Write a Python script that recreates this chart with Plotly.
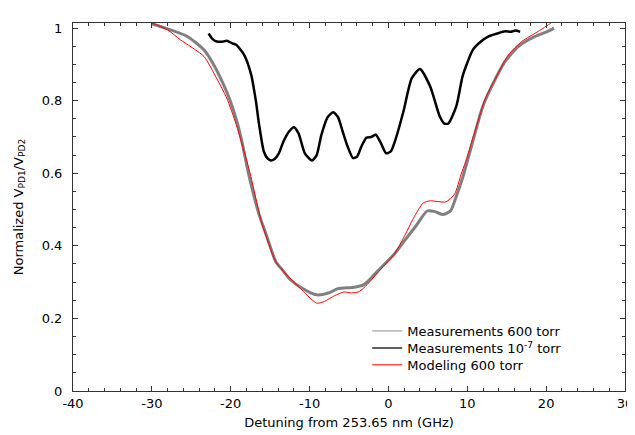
import plotly.graph_objects as go

# Measurements at 600 torr (gray)
meas600_x = [-30.0, -28.0, -25.5, -23.4, -22.0, -21.2, -20.1, -19.1, -18.5, -17.8, -17.2, -16.4, -15.5,
             -14.3, -13.5, -12.5, -11.0, -9.1, -7.6, -6.4, -4.3, -3.1, -2.2, -1.4, 0.7, 1.9, 3.6, 4.9,
             5.8, 6.9, 7.9, 8.5, 9.4, 10.7, 11.9, 13.2, 14.8, 16.5, 18.6, 20.2, 21.0]
meas600_y = [1.012, 0.998, 0.977, 0.940, 0.893, 0.858, 0.802, 0.734, 0.679, 0.605, 0.550, 0.486, 0.431,
             0.357, 0.335, 0.308, 0.284, 0.265, 0.270, 0.282, 0.286, 0.293, 0.311, 0.330, 0.376, 0.410, 0.458, 0.496,
             0.495, 0.486, 0.497, 0.530, 0.587, 0.688, 0.780, 0.844, 0.908, 0.950, 0.977, 0.991, 1.000]

# Measurements at 1e-7 torr (black)
meas7_x = [-22.8, -22.4, -22.0, -21.2, -20.5, -19.8, -19.3, -18.3, -17.4, -16.8, -16.4, -15.8, -15.3,
           -14.9, -14.4, -13.9, -13.3, -12.6, -12.0, -11.4, -10.6, -9.7, -9.1, -8.5, -7.7, -7.0, -6.4,
           -5.8, -5.2, -4.5, -4.0, -3.4, -2.8, -2.2, -1.6, -1.0, -0.3, 0.3, 1.0, 1.9, 2.96, 4.0, 5.3,
           6.5, 7.1, 7.6, 8.6, 9.4, 10.1, 10.7, 11.5, 12.7, 13.8, 14.8, 15.5, 16.1, 16.7]
meas7_y = [0.985, 0.972, 0.965, 0.962, 0.965, 0.958, 0.954, 0.926, 0.871, 0.798, 0.734, 0.660, 0.640,
           0.635, 0.640, 0.655, 0.688, 0.715, 0.727, 0.710, 0.655, 0.635, 0.650, 0.706, 0.755, 0.768, 0.755,
           0.715, 0.675, 0.642, 0.645, 0.675, 0.698, 0.700, 0.706, 0.685, 0.655, 0.660, 0.700, 0.770, 0.862, 0.887, 0.839,
           0.757, 0.737, 0.737, 0.784, 0.867, 0.910, 0.940, 0.959, 0.977, 0.985, 0.991, 0.990, 0.993, 0.990]

# Modeling at 600 torr (red)
model_x = [-30.0, -28.0, -26.4, -23.4, -21.8, -20.5, -19.3, -17.6, -16.0, -14.3, -13.0, -12.2, -10.6,
           -9.1, -8.1, -6.8, -5.6, -4.7, -3.7, -2.7, -1.4, 0.7, 1.9, 3.2, 4.4, 5.3, 6.3, 7.3, 8.4, 9.2,
           9.8, 11.1, 12.3, 13.6, 15.2, 16.9, 19.0, 20.6, 21.5]
model_y = [1.014, 0.995, 0.968, 0.922, 0.862, 0.807, 0.734, 0.605, 0.458, 0.357, 0.322, 0.305, 0.270,
           0.242, 0.247, 0.263, 0.273, 0.270, 0.274, 0.293, 0.325, 0.376, 0.421, 0.477, 0.518, 0.524, 0.522, 0.521, 0.543, 0.596,
           0.633, 0.725, 0.807, 0.862, 0.926, 0.963, 0.991, 1.014, 1.030]

x_tickvals = [-40, -30, -20, -10, 0, 10, 20, 30]
x_ticktext = ["-40", "-30", "-20", "-10", "0", "10", "20", "30"]
y_tickvals = [0, 0.2, 0.4, 0.6, 0.8, 1]
y_ticktext = ["0", "0.2", "0.4", "0.6", "0.8", "1"]

legend_names = ["Measurements 600 torr", "Measurements 10<sup>-7</sup> torr", "Modeling 600 torr"]

FONT = "DejaVu Sans"

fig = go.Figure()
fig.add_trace(go.Scatter(x=meas600_x, y=meas600_y, mode="lines",
                         line=dict(color="#808080", width=3, shape="spline", smoothing=0.6),
                         showlegend=False, name=legend_names[0]))
fig.add_trace(go.Scatter(x=meas7_x, y=meas7_y, mode="lines",
                         line=dict(color="#000000", width=2.5, shape="spline", smoothing=0.6),
                         showlegend=False, name=legend_names[1]))
fig.add_trace(go.Scatter(x=model_x, y=model_y, mode="lines",
                         line=dict(color="#ff0000", width=1, shape="spline", smoothing=0.6),
                         showlegend=False, name=legend_names[2]))
# legend entries (each in its own legend box so rows can be spaced like the reference)
fig.add_trace(go.Scatter(x=[None], y=[None], mode="lines", line=dict(color="#909090", width=1),
                         name=legend_names[0], legend="legend"))
fig.add_trace(go.Scatter(x=[None], y=[None], mode="lines", line=dict(color="#606060", width=2),
                         name=legend_names[1], legend="legend2"))
fig.add_trace(go.Scatter(x=[None], y=[None], mode="lines", line=dict(color="#ff0000", width=1),
                         name=legend_names[2], legend="legend3"))

axis_common = dict(showline=True, linecolor="#333333", linewidth=1, mirror="ticks", ticks="inside",
                   ticklen=5, tickcolor="#333333", showgrid=False, zeroline=False,
                   tickfont=dict(family=FONT, size=13, color="#000"))

fig.update_xaxes(range=[-40, 30], tickvals=x_tickvals, ticktext=x_ticktext,
                 minor=dict(dtick=2, tick0=0, ticks="inside", ticklen=3, tickcolor="#333333"),
                 title=dict(text="Detuning from 253.65 nm (GHz)", font=dict(family=FONT, size=13, color="#000"),
                            standoff=8),
                 **axis_common)
fig.update_yaxes(range=[0, 1.014], tickvals=y_tickvals, ticktext=y_ticktext,
                 ticklabelstandoff=7,
                 minor=dict(dtick=0.05, tick0=0, ticks="inside", ticklen=3, tickcolor="#333333"),
                 title=dict(text="Normalized V<sub>PD1</sub>/V<sub>PD2</sub>",
                            font=dict(family=FONT, size=13, color="#000"), standoff=15),
                 **axis_common)

leg_common = dict(x=0.533, xanchor="left", yanchor="middle", bgcolor="rgba(0,0,0,0)",
                  font=dict(family=FONT, size=13, color="#000"))
fig.update_layout(
    width=635, height=435,
    margin=dict(l=64, r=10, t=15, b=52),
    plot_bgcolor="white", paper_bgcolor="white",
    font=dict(family=FONT, size=13, color="#000"),
    legend=dict(y=0.163, **leg_common),
    legend2=dict(y=0.117, **leg_common),
    legend3=dict(y=0.071, **leg_common),
)

fig.write_html("out.html")
